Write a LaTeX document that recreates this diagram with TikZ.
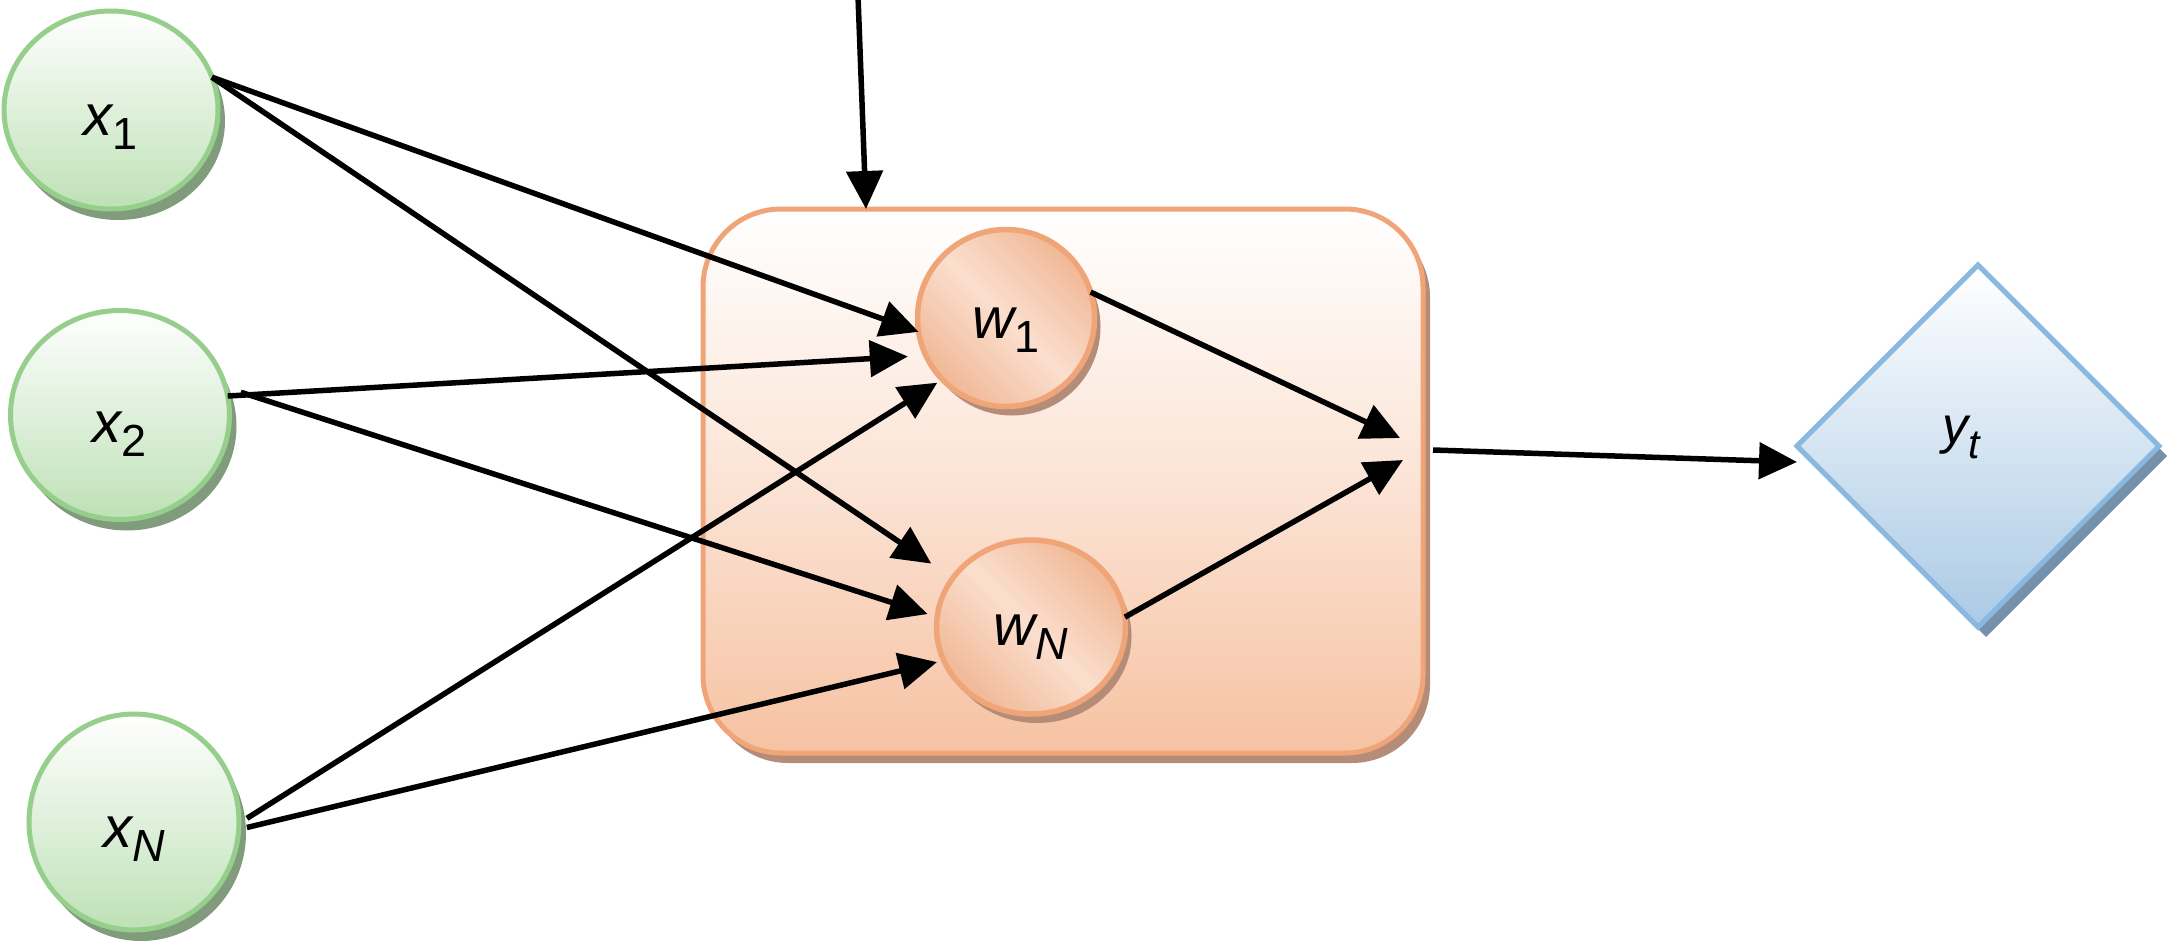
\documentclass[tikz,border=0pt]{standalone}
\usepackage{fontspec}
\setmainfont{Liberation Sans}
\usetikzlibrary{arrows.meta,shapes.geometric,shadows}
\definecolor{grB}{RGB}{150,206,140}
\definecolor{grF}{RGB}{190,225,182}
\definecolor{grS}{RGB}{128,156,124}
\definecolor{pkB}{RGB}{240,165,120}
\definecolor{pkF}{RGB}{246,194,162}
\definecolor{pkS}{RGB}{180,140,120}
\definecolor{pkD}{RGB}{240,184,150}
\definecolor{pkL}{RGB}{251,223,206}
\definecolor{blB}{RGB}{138,184,222}
\definecolor{blF}{RGB}{170,202,229}
\definecolor{blS}{RGB}{118,146,170}
\newcommand{\nlab}[4]{\raisebox{-#3}[0pt][0pt]{\fontsize{#4}{#4}\selectfont\itshape #1\raisebox{-14pt}{\fontsize{45pt}{45pt}\selectfont #2}}}
\begin{document}
\begin{tikzpicture}[x=1pt,y=-1pt,
 inp/.style={ellipse, draw=grB, line width=5pt, top color=white, bottom color=grF, inner sep=0pt, outer sep=0pt,
   drop shadow={shadow xshift=7pt, shadow yshift=-11pt, fill=grS, opacity=1}},
 wnode/.style={ellipse, draw=pkB, line width=5.5pt, left color=pkD, right color=pkD, middle color=pkL, shading angle=135, inner sep=0pt, outer sep=0pt,
   drop shadow={shadow xshift=6pt, shadow yshift=-9pt, fill=pkS, opacity=1}},
 boxst/.style={rectangle, rounded corners=78pt, draw=pkB, line width=5pt, top color=white, bottom color=pkF, middle color=pkF!45!white, inner sep=0pt, outer sep=0pt,
   minimum width=720pt, minimum height=544pt,
   drop shadow={shadow xshift=7pt, shadow yshift=-10pt, fill=pkS, opacity=1}},
 outst/.style={diamond, draw=blB, line width=5pt, top color=white, bottom color=blF, inner sep=0pt, outer sep=0pt,
   minimum width=362pt, minimum height=362pt,
   drop shadow={shadow xshift=8pt, shadow yshift=-10pt, fill=blS, opacity=1}},
 arr/.style={line width=5.5pt, -{Triangle[length=38pt,width=36pt]}}]
\useasboundingbox (0,0) rectangle (2170,948);

\node[boxst] (box) at (1063,481) {};
\node[wnode, minimum width=177pt, minimum height=177pt] (w1) at (1006,318) {\nlab{w}{\upshape 1}{20pt}{58pt}};
\node[wnode, minimum width=189pt, minimum height=174pt] (wN) at (1031,627) {\nlab{w}{N}{18pt}{58pt}};
\node[inp, minimum width=214pt, minimum height=198pt] (x1) at (111,110) {\nlab{x}{\upshape 1}{25pt}{58pt}};
\node[inp, minimum width=219pt, minimum height=209pt] (x2) at (120,415) {\nlab{x}{\upshape 2}{27pt}{58pt}};
\node[inp, minimum width=210pt, minimum height=216pt] (xN) at (134,822) {\nlab{x}{N}{25pt}{58pt}};
\node[outst] (yt) at (1978,446) {\raisebox{3pt}[0pt][0pt]{\fontsize{52pt}{52pt}\selectfont\itshape y\raisebox{-15pt}{\fontsize{41pt}{41pt}\selectfont t}}\kern34pt};

\coordinate (top) at (858,-4);
\coordinate (sumA) at (1400,438);
\coordinate (sumB) at (1403,460);
\coordinate (sumO) at (1433,450);

\draw[arr] (top) -- ([xshift=163pt]box.north west);
\draw[arr] (x1.18) -- (w1.189);
\draw[arr, shorten >=26pt] (x1.18) -- (wN.148);
\draw[arr, shorten >=18pt] (x2.10) -- (w1.205);
\draw[arr, shorten >=10pt] ([xshift=14pt]x2.12) -- (wN.174);
\draw[arr, shorten >=6pt] ([xshift=8pt]xN.2) -- (w1.224);
\draw[arr, shorten >=7pt] ([xshift=8pt]xN.-3) -- (wN.201);
\draw[arr] (w1.17) -- (sumA);
\draw[arr] (wN.6) -- (sumB);
\draw[arr] (sumO) -- ([yshift=-16pt]yt.west);
\end{tikzpicture}
\end{document}
